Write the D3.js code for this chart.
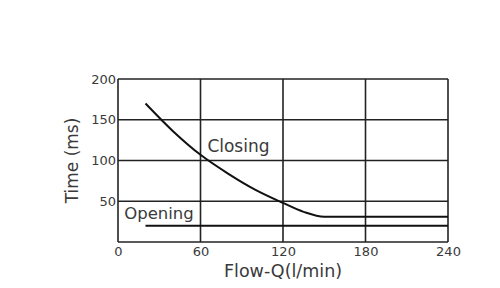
<!DOCTYPE html>
<html>
<head>
<meta charset="utf-8">
<script src="https://cdn.jsdelivr.net/npm/d3@7"></script>
<style>
  body { margin: 0; background: #fff; }
  svg text { font-family: "DejaVu Sans", sans-serif; fill: #3a3a3a; }
</style>
</head>
<body>
<svg id="chart" width="500" height="288"></svg>
<script>
// data
var xTicks = [0, 60, 120, 180, 240];
var yTicks = [50, 100, 150, 200];
var closingFlow = [20, 40, 60, 80, 100, 120, 135, 150, 240];
var closingTime = [170, 136, 107, 84, 64, 48, 37, 31, 31];
var openingFlow = [20, 240];
var openingTime = [20, 20];

var svg = d3.select("#chart");
var margin = {left: 118, top: 79, right: 52, bottom: 46};
var width = 500 - margin.left - margin.right,
    height = 288 - margin.top - margin.bottom;

var x = d3.scaleLinear().domain([0, 240]).range([0, width]);
var y = d3.scaleLinear().domain([0, 200]).range([height, 0]);

var g = svg.append("g")
    .attr("transform", "translate(" + margin.left + "," + margin.top + ")");

// grid
g.selectAll(".vgrid").data(xTicks).enter().append("line")
    .attr("x1", function(d) { return x(d); })
    .attr("x2", function(d) { return x(d); })
    .attr("y1", 0).attr("y2", height)
    .attr("stroke", "#222").attr("stroke-width", 1.6);
g.selectAll(".hgrid").data([0].concat(yTicks)).enter().append("line")
    .attr("y1", function(d) { return y(d); })
    .attr("y2", function(d) { return y(d); })
    .attr("x1", 0).attr("x2", width)
    .attr("stroke", "#222").attr("stroke-width", 1.6);

// tick labels
g.append("g")
    .attr("transform", "translate(0," + height + ")")
    .call(d3.axisBottom(x).tickValues(xTicks).tickSize(0).tickPadding(5))
    .call(function(a) { a.select(".domain").remove(); })
    .selectAll("text").attr("font-size", 13).style("fill", "#3a3a3a")
    .style("font-family", "'DejaVu Sans', sans-serif");

g.append("g")
    .call(d3.axisLeft(y).tickValues(yTicks).tickSize(0).tickPadding(2))
    .call(function(a) { a.select(".domain").remove(); })
    .selectAll("text").attr("font-size", 13).style("fill", "#3a3a3a")
    .style("font-family", "'DejaVu Sans', sans-serif");

// curves
var line = d3.line()
    .x(function(d) { return x(d[0]); })
    .y(function(d) { return y(d[1]); });

g.append("path")
    .datum(d3.zip(closingFlow, closingTime))
    .attr("fill", "none").attr("stroke", "#111").attr("stroke-width", 2)
    .attr("d", line.curve(d3.curveMonotoneX));

g.append("path")
    .datum(d3.zip(openingFlow, openingTime))
    .attr("fill", "none").attr("stroke", "#111").attr("stroke-width", 2)
    .attr("d", line.curve(d3.curveLinear));

// labels
g.append("text")
    .attr("x", x(65)).attr("y", y(111))
    .attr("font-size", 17)
    .text("Closing");
g.append("text")
    .attr("x", x(4.5)).attr("y", y(28))
    .attr("font-size", 16.5)
    .text("Opening");

svg.append("text")
    .attr("transform", "translate(78," + (margin.top + height / 2) + ") rotate(-90)")
    .attr("text-anchor", "middle")
    .attr("font-size", 17)
    .text("Time (ms)");
svg.append("text")
    .attr("x", margin.left + width / 2).attr("y", 277)
    .attr("text-anchor", "middle")
    .attr("font-size", 17.5)
    .text("Flow-Q(l/min)");
</script>
</body>
</html>
